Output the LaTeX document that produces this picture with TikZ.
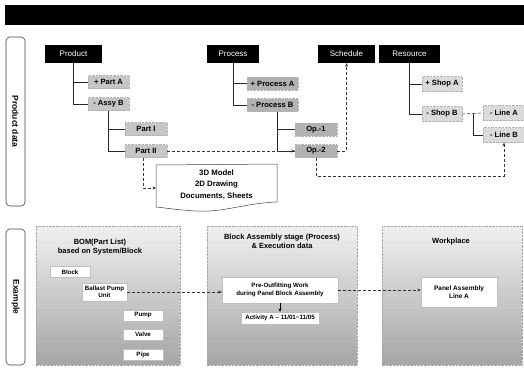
\documentclass[tikz,border=0pt]{standalone}
\usepackage{fontspec}
\setmainfont{Liberation Sans}
\usetikzlibrary{arrows.meta,calc}
\begin{document}
\begin{tikzpicture}[x=1pt,y=-1pt,
  hdr/.style={fill=black, text=white, inner sep=0pt, font=\fontsize{8}{9}\selectfont, minimum height=18pt},
  kid/.style={draw=gray!60, densely dotted, inner sep=0pt, minimum height=13pt, font=\bfseries\fontsize{7.6}{8.5}\selectfont},
  kidA/.style={kid, fill=gray!45},
  kidB/.style={kid, fill=gray!60},
  kidC/.style={kid, fill=gray!28},
  link/.style={draw=black!85, line width=0.5pt},
  dlink/.style={draw=black!80, densely dashed, line width=0.45pt, -{Stealth[length=3.5pt,width=3pt]}},
  side/.style={draw=black!75, line width=0.6pt, rounded corners=4pt},
  sidetxt/.style={font=\bfseries\fontsize{8.5}{9}\selectfont, rotate=-90},
  pborder/.style={draw=gray!70, densely dotted},
  ptitle/.style={font=\bfseries\fontsize{7.5}{9}\selectfont, align=center, inner sep=0pt},
  wbox/.style={fill=white, draw=gray!50, inner sep=0pt, align=center, font=\bfseries\fontsize{6.2}{7.2}\selectfont}
]
\useasboundingbox (0,0) rectangle (524,367);

% header bar
\fill[black] (5,5) rectangle (524,25);

% side labels
\draw[side] (6,37) rectangle (25,206);
\node[sidetxt] (lblprod) at (15.5,121.5) {Product data};
\draw[side] (6,229) rectangle (25,365);
\node[sidetxt] (lblex) at (15.5,297) {Example};

% product tree
\node[hdr, minimum width=57pt] (product) at (73.5,54) {Product};
\node[kidA, minimum width=41pt] (parta) at (108.5,82) {+ Part A};
\node[kidA, minimum width=41pt] (assyb) at (108.5,104) {- Assy B};
\node[kidA, minimum width=42pt] (part1) at (146,129) {Part I};
\node[kidA, minimum width=42pt] (part2) at (146,151) {Part II};
\draw[link] (product.south) |- (parta.west);
\draw[link] (product.south) |- (assyb.west);
\draw[link] (assyb.south) |- (part1.west);
\draw[link] (assyb.south) |- (part2.west);

% process tree
\node[hdr, minimum width=52pt] (process) at (233,54) {Process};
\node[kidB, minimum width=51pt] (proca) at (272.5,83.5) {+ Process A};
\node[kidB, minimum width=51pt] (procb) at (272.5,105) {- Process B};
\node[kidB, minimum width=42pt] (op1) at (316,129.5) {Op.-1};
\node[kidB, minimum width=42pt] (op2) at (316,151) {Op.-2};
\draw[link] (process.south) |- (proca.west);
\draw[link] (process.south) |- (procb.west);
\draw[link] ([xshift=4.5pt]procb.south) |- (op1.west);
\draw[link] ([xshift=4.5pt]procb.south) |- (op2.west);

% schedule / resource
\node[hdr, minimum width=57pt] (schedule) at (346.5,54) {Schedule};
\node[hdr, minimum width=61pt] (resource) at (409.5,54) {Resource};
\node[kidC, minimum width=40pt, minimum height=15pt] (shopa) at (442,84) {+ Shop A};
\node[kidC, minimum width=40pt, minimum height=15pt] (shopb) at (442,114) {- Shop B};
\node[kidC, minimum width=42pt, minimum height=15pt] (linea) at (504,113) {- Line A};
\node[kidC, minimum width=42pt, minimum height=15pt] (lineb) at (504,135) {- Line B};
\draw[link] (resource.south) |- (shopa.west);
\draw[link] (resource.south) |- (shopb.west);
\coordinate (sbj) at (473,113.5);
\draw[link, densely dashed] (shopb.east) -- (sbj);
\draw[link, densely dashed] (sbj) -- (linea.west);
\draw[link] (sbj) |- (lineb.west);

% document shape
\draw[draw=black!75, line width=0.5pt, fill=white]
  (156,165) -- (277,164) -- (277,202)
  .. controls (245,203) and (222,213) .. (196,211)
  .. controls (178,210) and (166,208) .. (156,207) -- cycle;
\node[font=\bfseries\fontsize{7.8}{11.5}\selectfont, align=center, inner sep=0pt] (doc) at (216.5,184.5)
  {3D Model\\2D Drawing\\Documents, Sheets};
\coordinate (docin) at (156,188);

% dashed links (top)
\draw[dlink] (part2.east) -- (op2.west);
\draw[dlink] ([xshift=-3pt]part2.south) |- (docin);
\draw[dlink] (op2.east) -| (schedule.south);
\coordinate (opturn) at (316,176);
\draw[dlink] (op2.south) -- (opturn) -| (lineb.south);

% panels with banded gradient
\foreach \xa/\xb in {36/180, 207/357, 382/522} {
  \foreach \i in {0,...,19} {
    \pgfmathtruncatemacro\cc{14+int(2.9*\i)}
    \fill[gray!\cc] (\xa,{226+\i*6.95}) rectangle (\xb,{226+(\i+1)*6.95+0.4});
  }
  \draw[pborder] (\xa,226) rectangle (\xb,365);
}

\node[ptitle] (t1) at (100,247) {BOM(Part List)\\based on System/Block};
\node[ptitle] (t2) at (282,241) {Block Assembly stage (Process)\\\& Execution data};
\node[ptitle] (t3) at (451,242) {Workplace};

\node[wbox, minimum width=40pt, minimum height=11pt] (block) at (70,272) {Block};
\node[wbox, minimum width=45pt, minimum height=18pt] (ballast) at (104.5,292) {Ballast Pump\\Unit};
\node[wbox, minimum width=40pt, minimum height=11pt] (pump) at (143,315.5) {Pump};
\node[wbox, minimum width=40pt, minimum height=11pt] (valve) at (143,334.5) {Valve};
\node[wbox, minimum width=40pt, minimum height=11pt] (pipe) at (143,354.5) {Pipe};

\node[wbox, minimum width=116pt, minimum height=26pt] (preout) at (280,290) {Pre-Outfitting Work\\during Panel Block Assembly};
\node[wbox, minimum width=78pt, minimum height=12pt] (activity) at (280,318) {Activity A -- 11/01\textasciitilde 11/05};
\draw[draw=black, line width=0.5pt, -{Stealth[length=3.5pt,width=3pt]}] (preout.south) -- (activity.north);

\node[wbox, minimum width=76pt, minimum height=30pt, font=\bfseries\fontsize{6.5}{7.5}\selectfont] (panelasm) at (459,292) {Panel Assembly\\Line A};

\draw[dlink] (ballast.east) -- (preout.west |- ballast.east);
\draw[dlink] (preout.east) -- (panelasm.west |- preout.east);
\end{tikzpicture}
\end{document}
